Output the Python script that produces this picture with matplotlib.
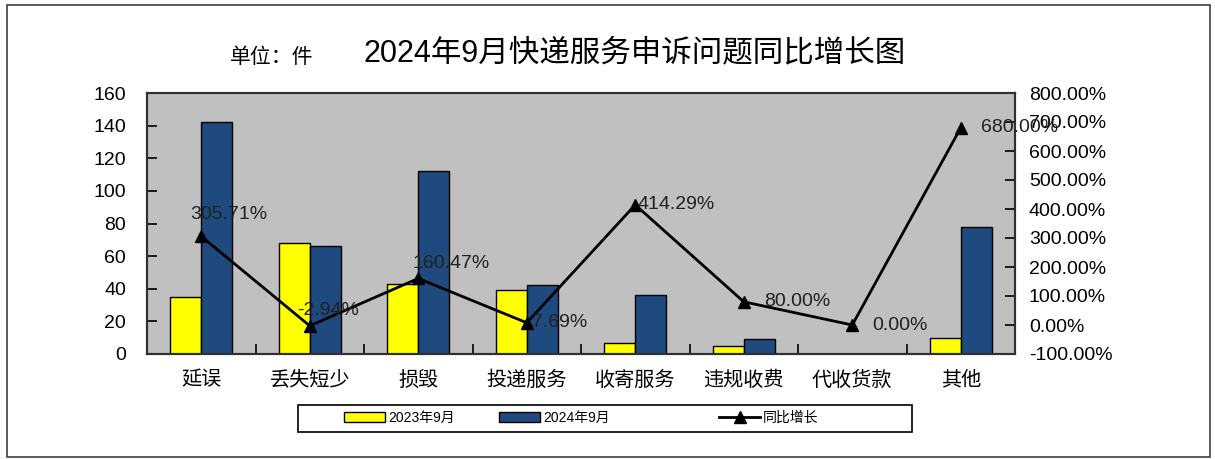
import matplotlib.pyplot as plt
import numpy as np
from matplotlib.patches import Rectangle
from matplotlib.lines import Line2D
from matplotlib.ticker import FuncFormatter

plt.rcParams['font.family'] = ['Liberation Sans', 'Noto Sans CJK SC', 'DejaVu Sans']

# data
categories = ['延误', '丢失短少', '损毁', '投递服务', '收寄服务', '违规收费', '代收货款', '其他']
sep2023 = [35, 68, 43, 39, 7, 5, 0, 10]
sep2024 = [142, 66, 112, 42, 36, 9, 0, 78]
growth = [305.71, -2.94, 160.47, 7.69, 414.29, 80.00, 0.00, 680.00]
legend_names = ['2023年9月', '2024年9月', '同比增长']

# label offsets (pixels) for the growth labels
lab_dx = [-11, -13, -6, 5, 2, 20, 20, 20]
lab_dy = [22, 15, 15, 0, 0, 0, 0, 0]

W, H = 1215, 459
fig = plt.figure(figsize=(W / 100, H / 100), dpi=100)

def fx(px):
    return px / W

def fy(py):
    return 1 - py / H

# outer chart border
fig.patches.append(Rectangle((fx(7), fy(457)), fx(1210) - fx(7), fy(5) - fy(457),
                             transform=fig.transFigure, fill=False,
                             edgecolor='#404040', lw=1.2))

ax = fig.add_axes([fx(147), fy(354), fx(1015) - fx(147), fy(93) - fy(354)])
ax.set_facecolor('#C0C0C0')
x = np.arange(len(categories))
bw = 0.285
ax.bar(x - bw / 2, sep2023, bw, color='#FFFF00', edgecolor='black', lw=1)
ax.bar(x + bw / 2, sep2024, bw, color='#1F4A7F', edgecolor='black', lw=1)
ax.set_xlim(-0.5, len(categories) - 0.5)
ax.set_ylim(0, 160)
ax.set_yticks(range(0, 161, 20))
ax.set_xticks(x)
ax.set_xticklabels(categories, fontsize=14.5)
ax.set_xticks(np.arange(0.5, len(categories) - 1, 1), minor=True)
ax.tick_params(axis='x', which='major', length=0, pad=12)
ax.tick_params(axis='x', which='minor', direction='in', length=7, width=1.2)
ax.tick_params(axis='y', direction='in', length=7, width=1.2, labelsize=14, pad=15)
for s in ax.spines.values():
    s.set_linewidth(1.5)
    s.set_color('#303030')

ax2 = ax.twinx()
ax2.plot(x, growth, color='black', lw=2, marker='^', ms=9)
ax2.set_ylim(-100, 800)
ax2.set_yticks(range(-100, 801, 100))
ax2.yaxis.set_major_formatter(FuncFormatter(lambda v, p: '%.2f%%' % v))
ax2.tick_params(axis='y', direction='in', length=7, width=1.2, labelsize=14, pad=10)
for s in ax2.spines.values():
    s.set_linewidth(1.5)
    s.set_color('#303030')

for i in range(len(categories)):
    ax2.annotate('%.2f%%' % growth[i], (x[i], growth[i]),
                 xytext=(lab_dx[i], lab_dy[i]), textcoords='offset pixels',
                 ha='left', va='center', fontsize=14, color='#202020')

fig.text(fx(230), fy(57), '单位：件', fontsize=15, ha='left', va='center')
fig.text(fx(635), fy(53), '2024年9月快递服务申诉问题同比增长图', fontsize=22,
         ha='center', va='center')

# legend with its own wide frame, one entry per spot
fig.patches.append(Rectangle((fx(298), fy(432)), fx(912) - fx(298), fy(405) - fy(432),
                             transform=fig.transFigure, fill=False,
                             edgecolor='black', lw=1.2))
handles = [Rectangle((0, 0), 1, 1, facecolor='#FFFF00', edgecolor='black'),
           Rectangle((0, 0), 1, 1, facecolor='#1F4A7F', edgecolor='black'),
           Line2D([], [], color='black', lw=2, marker='^', ms=8)]
starts = [334, 489, 709]
for h, name, sx in zip(handles, legend_names, starts):
    fig.legend([h], [name], loc='center left', bbox_to_anchor=(fx(sx), fy(418)),
               frameon=False, fontsize=10, handlelength=3.0, handleheight=0.7,
               handletextpad=0.2, borderpad=0.2)

fig.savefig('out.png', dpi=100)
